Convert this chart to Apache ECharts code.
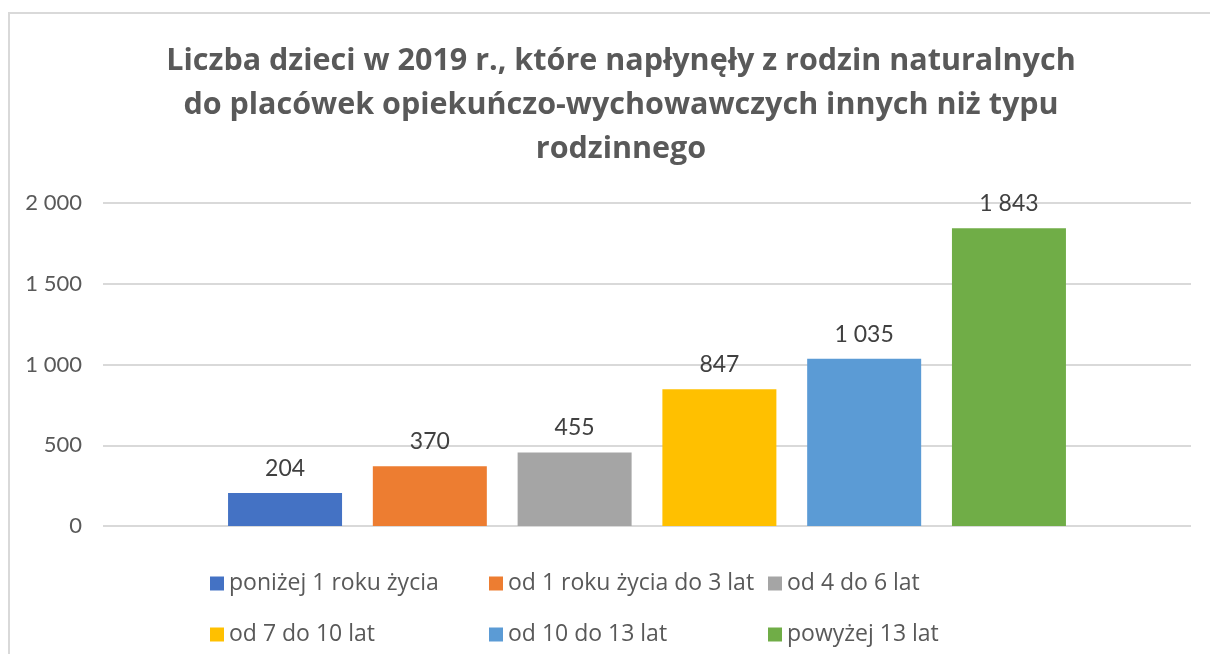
<!DOCTYPE html>
<html>
<head>
<meta charset="utf-8">
<style>
  html, body { margin: 0; padding: 0; background: #fff; }
  #chart { width: 1210px; height: 654px; }
</style>
<script src="https://cdn.jsdelivr.net/npm/echarts@6/dist/echarts.min.js"></script>
</head>
<body>
<div id="chart"></div>
<script>
const titleText = "Liczba dzieci w 2019 r., które napłynęły z rodzin naturalnych\ndo placówek opiekuńczo-wychowawczych innych niż typu\nrodzinnego";
const categories = ["2019"];
const seriesNames = [
  "poniżej 1 roku życia",
  "od 1 roku życia do 3 lat",
  "od 4 do 6 lat",
  "od 7 do 10 lat",
  "od 10 do 13 lat",
  "powyżej 13 lat"
];
const seriesValues = [204, 370, 455, 847, 1035, 1843];
const seriesColors = ["#4472C4", "#ED7D31", "#A5A5A5", "#FFC000", "#5B9BD5", "#70AD47"];
const yTicks = [0, 500, 1000, 1500, 2000];

// polskie formatowanie liczb: spacja jako separator tysięcy
function fmt(v) {
  return String(v).replace(/\B(?=(\d{3})+(?!\d))/g, " ");
}

const chart = echarts.init(document.getElementById("chart"));

const series = seriesNames.map((name, i) => ({
  name: name,
  type: "bar",
  data: [seriesValues[i]],
  barWidth: 114,
  barGap: "27%",
  itemStyle: { color: seriesColors[i] },
  label: {
    show: true,
    position: "top",
    distance: 13,
    color: "#404040",
    fontFamily: "Lato",
    fontSize: 23,
    formatter: (p) => fmt(p.value)
  }
}));

chart.setOption({
  animation: false,
  title: {
    text: titleText,
    left: 616,
    top: 34,
    textAlign: "center",
    textStyle: {
      color: "#595959",
      fontFamily: "Open Sans",
      fontWeight: "bold",
      fontSize: 30.5,
      lineHeight: 44
    }
  },
  graphic: [
    {
      type: "rect",
      shape: { x: 9, y: 13, width: 1300, height: 700 },
      style: { fill: "none", stroke: "#d9d9d9", lineWidth: 2 },
      silent: true
    }
  ],
  legend: {
    left: 205,
    top: 558,
    width: 850,
    icon: "rect",
    itemWidth: 14,
    itemHeight: 14,
    itemGap: 10,
    textStyle: {
      color: "#595959",
      fontFamily: "Open Sans",
      fontSize: 23,
      width: 250,
      lineHeight: 41
    },
    data: seriesNames
  },
  grid: {
    left: 103,
    right: 19,
    top: 203,
    bottom: 128,
    containLabel: false
  },
  xAxis: {
    type: "category",
    data: categories,
    axisLine: { show: false },
    axisTick: { show: false },
    axisLabel: { show: false }
  },
  yAxis: {
    type: "value",
    min: yTicks[0],
    max: yTicks[yTicks.length - 1],
    interval: 500,
    axisLine: { show: false },
    axisTick: { show: false },
    splitLine: { lineStyle: { color: "#d9d9d9", width: 2 } },
    axisLabel: {
      margin: 21,
      color: "#595959",
      fontFamily: "Lato",
      fontSize: 22,
      formatter: (v) => fmt(v)
    }
  },
  series: series
});
</script>
</body>
</html>
